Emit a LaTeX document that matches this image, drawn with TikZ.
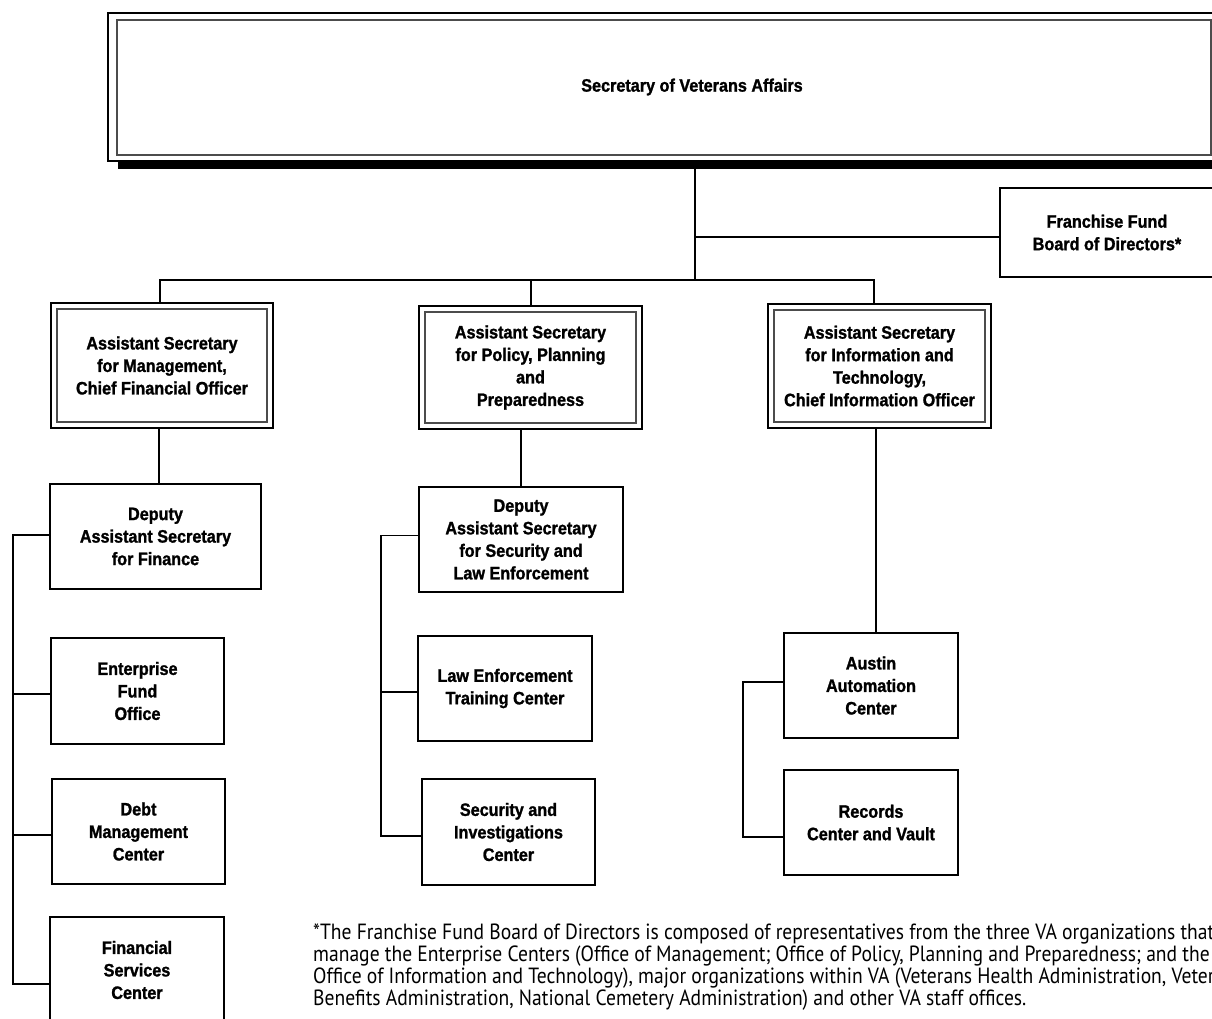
\documentclass[tikz,border=0pt]{standalone}
\usepackage{fontspec}
\setmainfont[FakeStretch=0.9, BoldFeatures={FakeBold=1.3}]{Liberation Sans}
\newfontfamily\notefont[FakeStretch=0.89]{PT Sans}
\newcommand{\lblfont}{\bfseries\fontsize{18}{22.5}\selectfont}
\newcommand{\ftnfont}{\notefont\fontsize{22}{22}\selectfont}
\begin{document}
\begin{tikzpicture}[x=1pt,y=-1pt,
  box/.style={draw=black, line width=1.8pt, align=center, inner sep=0pt, outer sep=0pt, font=\lblfont, fill=white},
  outerbox/.style={box, line width=2.2pt},
  innerline/.style={draw=black!70, line width=1.3pt},
  conn/.style={draw=black, line width=1.6pt},
  note/.style={anchor=base west, inner sep=0pt, font=\ftnfont}]
\useasboundingbox (0,0) rectangle (1212,1019);
\clip (0,0) rectangle (1212,1019);

% top box
\fill[black] (118,161) rectangle (1300,169);
\node[outerbox, minimum width=1168pt, minimum height=148pt] (sec) at (692,87) {Secretary of Veterans Affairs};
\draw[innerline] (117,20) rectangle (1211,155);

% trunk and bus
\coordinate (trunk) at (695,280);
\draw[conn] (trunk |- sec.south) -- (trunk);

% franchise fund
\node[box, minimum width=214pt, minimum height=89pt] (ffb) at (1107,232.5) {Franchise Fund\\Board of Directors*};
\draw[conn] ([yshift=-4.5pt]ffb.west) -- ([yshift=-4.5pt]ffb.west -| trunk);

% assistant secretaries
\node[outerbox, minimum width=222pt, minimum height=125pt] (asm) at (162,365.5) {Assistant Secretary\\for Management,\\Chief Financial Officer};
\node[outerbox, minimum width=223pt, minimum height=123pt] (asp) at (530.5,367.5) {Assistant Secretary\\for Policy, Planning\\and\\Preparedness};
\node[outerbox, minimum width=223pt, minimum height=124pt] (asit) at (879.5,366) {Assistant Secretary\\for Information and\\Technology,\\Chief Information Officer};
\foreach \n in {asm,asp,asit}{
  \draw[innerline] ([shift={(6,6)}]\n.north west) rectangle ([shift={(-6,-6)}]\n.south east);
}
\coordinate (dropA) at (160,0);
\coordinate (dropB) at (531,0);
\coordinate (dropC) at (874,0);
\draw[conn] (asm.north -| dropA) -- (trunk -| dropA) -- (trunk -| dropC) -- (asit.north -| dropC);
\draw[conn] (asp.north -| dropB) -- (trunk -| dropB);

% left column
\node[box, minimum width=211pt, minimum height=105pt] (dasf) at (155.5,536.5) {Deputy\\Assistant Secretary\\for Finance};
\node[box, minimum width=173pt, minimum height=106pt] (efo) at (137.5,691) {Enterprise\\Fund\\Office};
\node[box, minimum width=173pt, minimum height=105pt] (dmc) at (138.5,831.5) {Debt\\Management\\Center};
\node[box, minimum width=174pt, minimum height=106pt] (fsc) at (137,970) {Financial\\Services\\Center};
\coordinate (mx) at (159,0);
\draw[conn] (asm.south -| mx) -- (dasf.north -| mx);
\coordinate (lbus) at (13,0);
\draw[conn] ([yshift=1.5pt]dasf.west) -- ([yshift=1.5pt]dasf.west -| lbus) -- ([yshift=-14pt]fsc.west -| lbus) -- ([yshift=-14pt]fsc.west);
\draw[conn] ([yshift=-3pt]efo.west -| lbus) -- ([yshift=-3pt]efo.west);
\draw[conn] ([yshift=-3.5pt]dmc.west -| lbus) -- ([yshift=-3.5pt]dmc.west);

% middle column
\node[box, minimum width=204pt, minimum height=105pt] (dass) at (521,539.5) {Deputy\\Assistant Secretary\\for Security and\\Law Enforcement};
\node[box, minimum width=174pt, minimum height=105pt] (letc) at (505,688.5) {Law Enforcement\\Training Center};
\node[box, minimum width=173pt, minimum height=106pt] (sic) at (508.5,832) {Security and\\Investigations\\Center};
\draw[conn] (dass.north) -- (dass.north |- asp.south);
\coordinate (mbus) at (381,0);
\draw[conn] ([yshift=4pt]dass.west) -- ([yshift=4pt]dass.west -| mbus) -- ([yshift=-4pt]sic.west -| mbus) -- ([yshift=-4pt]sic.west);
\draw[conn] ([yshift=-3.5pt]letc.west -| mbus) -- ([yshift=-3.5pt]letc.west);

% right column
\node[box, minimum width=174pt, minimum height=105pt] (aac) at (871,685.5) {Austin\\Automation\\Center};
\node[box, minimum width=174pt, minimum height=105pt] (rcv) at (871,822.5) {Records\\Center and Vault};
\coordinate (itx) at (876,0);
\draw[conn] (asit.south -| itx) -- (aac.north -| itx);
\coordinate (rbus) at (743,0);
\draw[conn] ([yshift=3.5pt]aac.west) -- ([yshift=3.5pt]aac.west -| rbus) -- ([yshift=-14.5pt]rcv.west -| rbus) -- ([yshift=-14.5pt]rcv.west);

% footnote
\node[note] (n1) at (313,939) {*The Franchise Fund Board of Directors is composed of representatives from the three VA organizations that};
\node[note] (n2) at (313,961) {manage the Enterprise Centers (Office of Management; Office of Policy, Planning and Preparedness; and the};
\node[note] (n3) at (313,983) {Office of Information and Technology), major organizations within VA (Veterans Health Administration, Veterans};
\node[note] (n4) at (313,1005) {Benefits Administration, National Cemetery Administration) and other VA staff offices.};
\end{tikzpicture}
\end{document}
